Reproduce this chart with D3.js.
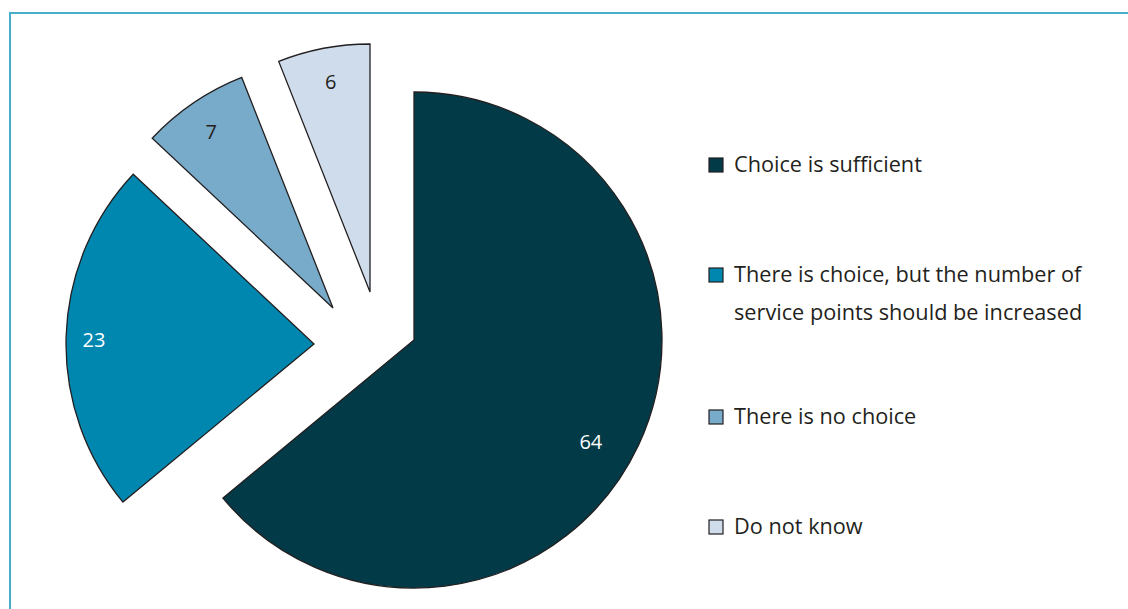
<!DOCTYPE html>
<html>
<head>
<meta charset="utf-8">
<script src="https://cdn.jsdelivr.net/npm/d3@7"></script>
<style>
  html, body { margin: 0; padding: 0; background: #ffffff; }
  svg { display: block; }
  text { font-family: "Open Sans", "Noto Sans", sans-serif; fill: #231f20; }
</style>
</head>
<body>
<svg id="chart" width="1128" height="609"></svg>
<script>
// Survey answers (percent)
const categories = [
  "Choice is sufficient",
  "There is choice, but the number of service points should be increased",
  "There is no choice",
  "Do not know"
];
const values = [64, 23, 7, 6];
const colors = ["#023a47", "#0087b0", "#78aac9", "#cedceb"];
const labelColors = ["#ffffff", "#ffffff", "#231f20", "#231f20"];
// Legend text, wrapped into lines
const legendLines = [
  ["Choice is sufficient"],
  ["There is choice, but the number of", "service points should be increased"],
  ["There is no choice"],
  ["Do not know"]
];

const width = 1128, height = 609;
const svg = d3.select("#chart");

// Frame around the figure
svg.append("rect")
  .attr("x", 10).attr("y", 13)
  .attr("width", width + 20).attr("height", height + 20)
  .attr("fill", "none")
  .attr("stroke", "#47aecb")
  .attr("stroke-width", 2);

// Pie layout
const cx = 414, cy = 340, R = 248;
// Pull-out of each wedge from the centre (pixels)
const explode = [[0, 0], [-100, 4], [-81, -32], [-44, -48]];
// Value label placement: distance from the wedge tip and angular nudge (degrees)
const labelRadius = [204, 220, 214, 214];
const labelNudge = [4.7, -0.8, -0.5, 0.2];

const pie = d3.pie().sort(null).startAngle(0).endAngle(2 * Math.PI);
const arcs = pie(values);
const arc = d3.arc().innerRadius(0).outerRadius(R);

const g = svg.append("g").attr("transform", `translate(${cx},${cy})`);

const slices = g.selectAll("g.slice")
  .data(arcs)
  .join("g")
  .attr("class", "slice")
  .attr("transform", (d, i) => `translate(${explode[i][0]},${explode[i][1]})`);

slices.append("path")
  .attr("d", arc)
  .attr("fill", (d, i) => colors[i])
  .attr("stroke", "#231f20")
  .attr("stroke-width", 1.3)
  .attr("stroke-linejoin", "miter");

slices.append("text")
  .attr("transform", (d, i) => {
    const a = (d.startAngle + d.endAngle) / 2 + labelNudge[i] * Math.PI / 180;
    const r = labelRadius[i];
    return `translate(${r * Math.sin(a)},${-r * Math.cos(a)})`;
  })
  .attr("text-anchor", "middle")
  .attr("dy", "0.35em")
  .style("font-size", "20px")
  .style("fill", (d, i) => labelColors[i])
  .text(d => d.data);

// Legend
const legendX = 709, legendTop = 158, sq = 14;
const entryGap = 110, lineGap = 38;
let y = legendTop;
const legend = svg.append("g");
categories.forEach((c, i) => {
  const item = legend.append("g").attr("transform", `translate(${legendX},${y})`);
  item.append("rect")
    .attr("x", 0).attr("y", 0)
    .attr("width", sq).attr("height", sq)
    .attr("fill", colors[i])
    .attr("stroke", "#231f20")
    .attr("stroke-width", 1.2);
  legendLines[i].forEach((line, k) => {
    item.append("text")
      .attr("x", 25)
      .attr("y", sq + k * lineGap)
      .style("font-size", "21.7px")
      .text(line);
  });
  y += entryGap + (legendLines[i].length - 1) * 32;
});
</script>
</body>
</html>
